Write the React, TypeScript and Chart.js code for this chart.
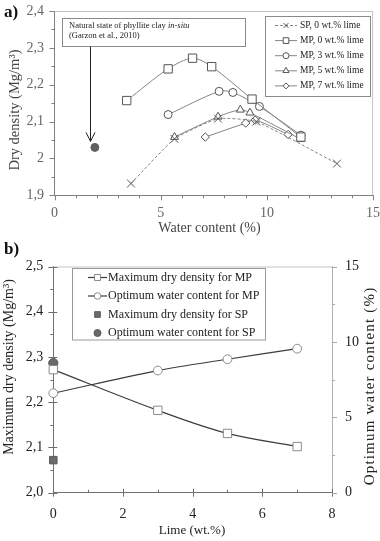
import React, { useEffect, useRef } from 'react';
import { Chart, registerables } from 'chart.js';
import { drawPoint } from 'chart.js/helpers';

Chart.register(...registerables);

const SERIF = '"Liberation Serif", "Times New Roman", Times, serif';

// ---------- a) compaction curves ----------
const SP0_W = [3.6, 5.65, 7.7, 9.5, 13.3];
const SP0_D = [1.932, 2.053, 2.108, 2.1, 1.986];
const MP0_W = [3.4, 5.35, 6.5, 7.4, 9.3, 11.6];
const MP0_D = [2.157, 2.243, 2.272, 2.249, 2.161, 2.058];
const MP3_W = [5.35, 7.75, 8.4, 9.65, 11.6];
const MP3_D = [2.119, 2.182, 2.179, 2.141, 2.063];
const MP5_W = [5.65, 7.7, 8.75, 9.2, 11.6];
const MP5_D = [2.058, 2.113, 2.132, 2.124, 2.052];
const MP7_W = [7.1, 9.0, 9.45, 11.0];
const MP7_D = [2.058, 2.096, 2.104, 2.065];
const INSITU_W = [1.9];
const INSITU_D = [2.03];

const A_LABELS = ['SP, 0 wt.% lime', 'MP, 0 wt.% lime', 'MP, 3 wt.% lime', 'MP, 5 wt.% lime', 'MP, 7 wt.% lime'];
const A_X_TICKS = [0, 5, 10, 15];
const A_Y_TICKS = [1.9, 2.0, 2.1, 2.2, 2.3, 2.4];
const A_Y_TICK_LABELS = ['1,9', '2', '2,1', '2,2', '2,3', '2,4'];
const A_X_TITLE = 'Water content (%)';
const A_Y_TITLE = 'Dry density (Mg/m³)';
const A_NOTE_1 = 'Natural state of phyllite clay ';
const A_NOTE_1_IT = 'in-situ';
const A_NOTE_2 = '(Garzon et al., 2010)';

// ---------- b) lime effect ----------
const LIME = [0, 3, 5, 7];
const MP_MAX_DENSITY = [2.272, 2.182, 2.131, 2.102];
const MP_OPT_WATER = [6.6, 8.1, 8.85, 9.55];
const SP_LIME = [0];
const SP_MAX_DENSITY = [2.072];
const SP_OPT_WATER = [8.6];

const B_LABELS = [
  'Maximum dry density for MP',
  'Optimum water content for MP',
  'Maximum dry density for SP',
  'Optimum water content for SP',
];
const B_X_TICKS = [0, 2, 4, 6, 8];
const B_Y_TICKS = [2.0, 2.1, 2.2, 2.3, 2.4, 2.5];
const B_Y_TICK_LABELS = ['2,0', '2,1', '2,2', '2,3', '2,4', '2,5'];
const B_Y2_TICKS = [0, 5, 10, 15];
const B_X_TITLE = 'Lime (wt.%)';
const B_Y_TITLE = 'Maximum dry density (Mg/m³)';
const B_Y2_TITLE = 'Optimum water content (%)';

const pts = (xs: number[], ys: number[]) => xs.map((x, i) => ({ x, y: ys[i] }));

function seg(ctx: CanvasRenderingContext2D, x1: number, y1: number, x2: number, y2: number) {
  ctx.beginPath();
  ctx.moveTo(x1, y1);
  ctx.lineTo(x2, y2);
  ctx.stroke();
}

function vText(ctx: CanvasRenderingContext2D, text: string, cx: number, cy: number, font: string, color: string, spacing = 0) {
  ctx.save();
  ctx.translate(cx, cy);
  ctx.rotate(-Math.PI / 2);
  ctx.font = font;
  ctx.fillStyle = color;
  ctx.textAlign = 'center';
  ctx.textBaseline = 'middle';
  if (spacing) (ctx as any).letterSpacing = spacing + 'px';
  ctx.fillText(text, 0, 0);
  ctx.restore();
}

function marker(ctx: CanvasRenderingContext2D, ds: any, x: number, y: number, r: number) {
  ctx.save();
  ctx.setLineDash([]);
  ctx.lineWidth = 1;
  ctx.strokeStyle = ds.pointBorderColor;
  ctx.fillStyle = ds.pointBackgroundColor;
  drawPoint(ctx, { pointStyle: ds.pointStyle, radius: r, rotation: 0, borderWidth: 1 } as any, x, y);
  ctx.restore();
}

function ChartA() {
  const ref = useRef<HTMLCanvasElement>(null);
  useEffect(() => {
    const line = '#858585';
    const mk = '#555555';
    const base = { borderWidth: 1, pointBorderWidth: 1, pointBorderColor: mk, pointBackgroundColor: '#ffffff', showLine: true, tension: 0.3, clip: false };
    const datasets: any[] = [
      { ...base, label: A_LABELS[0], data: pts(SP0_W, SP0_D), borderColor: line, borderDash: [3, 2], pointStyle: 'crossRot', pointRadius: 5.5, tension: 0.15 },
      { ...base, label: A_LABELS[1], data: pts(MP0_W, MP0_D), borderColor: line, pointStyle: 'rect', pointRadius: 5.9 },
      { ...base, label: A_LABELS[2], data: pts(MP3_W, MP3_D), borderColor: line, pointStyle: 'circle', pointRadius: 4 },
      { ...base, label: A_LABELS[3], data: pts(MP5_W, MP5_D), borderColor: line, pointStyle: 'triangle', pointRadius: 4.6 },
      { ...base, label: A_LABELS[4], data: pts(MP7_W, MP7_D), borderColor: line, pointStyle: 'rectRot', pointRadius: 4.2 },
      { label: 'in-situ', data: pts(INSITU_W, INSITU_D), showLine: false, clip: false, pointStyle: 'circle', pointRadius: 4, pointBackgroundColor: '#5f5f5f', pointBorderColor: '#5f5f5f', borderColor: '#5f5f5f' },
    ];
    const legendR = [3.5, 4, 3, 3.5, 3];
    const plugin = {
      id: 'decorA',
      afterDraw(chart: any) {
        const { ctx, chartArea: ca, scales } = chart;
        const xs = scales.x, ys = scales.y;
        ctx.save();
        ctx.lineWidth = 1;
        // frame
        ctx.strokeStyle = '#c4c4c4';
        seg(ctx, ca.left, ca.top + 0.5, ca.right, ca.top + 0.5);
        seg(ctx, ca.right - 0.5, ca.top, ca.right - 0.5, ca.bottom);
        // ticks
        ctx.strokeStyle = '#808080';
        for (let v = 0; v <= 15; v++) {
          const px = Math.round(xs.getPixelForValue(v)) + 0.5;
          seg(ctx, px, ca.bottom, px, ca.bottom + (v % 5 === 0 ? 5 : 3));
        }
        for (let k = 0; k <= 10; k++) {
          const py = Math.round(ys.getPixelForValue(1.9 + k * 0.05)) + 0.5;
          seg(ctx, ca.left - (k % 2 === 0 ? 5 : 3), py, ca.left, py);
        }
        // titles
        ctx.fillStyle = '#444';
        ctx.font = `14px ${SERIF}`;
        ctx.textAlign = 'center';
        ctx.textBaseline = 'middle';
        ctx.fillText(A_X_TITLE, 209.5, 228);
        vText(ctx, A_Y_TITLE, 15, 110, `14.5px ${SERIF}`, '#444');
        // panel label
        ctx.font = `bold 17px ${SERIF}`;
        ctx.fillStyle = '#111';
        ctx.textAlign = 'left';
        ctx.fillText('a)', 4, 13);
        // annotation box
        ctx.fillStyle = '#fff';
        ctx.strokeStyle = '#8a8a8a';
        ctx.fillRect(62.5, 18.5, 183, 28);
        ctx.strokeRect(62.5, 18.5, 183, 28);
        ctx.fillStyle = '#222';
        ctx.font = `8.5px ${SERIF}`;
        ctx.textBaseline = 'middle';
        ctx.fillText(A_NOTE_1, 69, 25.5);
        const w1 = ctx.measureText(A_NOTE_1).width;
        ctx.font = `italic 8.5px ${SERIF}`;
        ctx.fillText(A_NOTE_1_IT, 69 + w1, 25.5);
        ctx.font = `8.5px ${SERIF}`;
        ctx.fillText(A_NOTE_2, 69, 36);
        // arrow to in-situ point
        const ax = Math.round(xs.getPixelForValue(INSITU_W[0])) - 4.5;
        const tipY = ys.getPixelForValue(INSITU_D[0]) - 6;
        ctx.strokeStyle = '#222';
        seg(ctx, ax, 46.5, ax, tipY);
        ctx.beginPath();
        ctx.moveTo(ax - 4.5, tipY - 9);
        ctx.lineTo(ax, tipY);
        ctx.lineTo(ax + 4.5, tipY - 9);
        ctx.stroke();
        // legend
        ctx.fillStyle = '#fff';
        ctx.strokeStyle = '#8a8a8a';
        ctx.fillRect(265.5, 16.5, 105, 80);
        ctx.strokeRect(265.5, 16.5, 105, 80);
        for (let i = 0; i < 5; i++) {
          const ds = chart.data.datasets[i];
          const yy = 25.5 + i * 15.1;
          ctx.strokeStyle = ds.borderColor;
          ctx.setLineDash(ds.borderDash || []);
          seg(ctx, 275, yy, 297, yy);
          ctx.setLineDash([]);
          marker(ctx, ds, 286, yy, legendR[i]);
          ctx.fillStyle = '#222';
          ctx.font = `9.5px ${SERIF}`;
          ctx.textAlign = 'left';
          ctx.textBaseline = 'middle';
          ctx.fillText(ds.label, 300, yy);
        }
        ctx.restore();
      },
    };
    const chart = new Chart(ref.current!, {
      type: 'scatter',
      data: { datasets },
      options: {
        responsive: false,
        animation: false,
        devicePixelRatio: 1,
        layout: { padding: { top: 11, right: 5.5, left: 0, bottom: 0 } },
        plugins: { legend: { display: false }, tooltip: { enabled: false } },
        scales: {
          x: {
            type: 'linear', min: 0, max: 15,
            afterBuildTicks: (s: any) => { s.ticks = A_X_TICKS.map((v) => ({ value: v })); },
            ticks: { font: { family: SERIF, size: 14 }, color: '#666', padding: 10 },
            grid: { display: false, drawTicks: false },
            border: { color: '#808080', width: 1 },
            afterFit: (s: any) => { s.height = 44.7; s.paddingLeft = 0; s.paddingRight = 0; },
          },
          y: {
            type: 'linear', min: 1.9, max: 2.4,
            afterBuildTicks: (s: any) => { s.ticks = A_Y_TICKS.map((v) => ({ value: v })); },
            ticks: { font: { family: SERIF, size: 14 }, color: '#666', padding: 10.5, callback: (_v: any, i: number) => A_Y_TICK_LABELS[i] },
            grid: { display: false, drawTicks: false },
            border: { color: '#808080', width: 1 },
            afterFit: (s: any) => { s.width = 54.5; s.paddingTop = 0; s.paddingBottom = 0; },
          },
        },
      } as any,
      plugins: [plugin],
    });
    return () => chart.destroy();
  }, []);
  return <canvas ref={ref} width={380} height={240} style={{ position: 'absolute', left: 0, top: 0, width: 380, height: 240 }} />;
}

function ChartB() {
  const ref = useRef<HTMLCanvasElement>(null);
  useEffect(() => {
    const dark = '#3c3c3c';
    const datasets: any[] = [
      { label: B_LABELS[0], data: pts(LIME, MP_MAX_DENSITY), yAxisID: 'y', clip: false, showLine: true, tension: 0.35, borderColor: dark, borderWidth: 1.2, pointStyle: 'rect', pointRadius: 5.9, pointBorderWidth: 1, pointBorderColor: '#8a8a8a', pointBackgroundColor: '#fff' },
      { label: B_LABELS[1], data: pts(LIME, MP_OPT_WATER), yAxisID: 'y2', clip: false, showLine: true, tension: 0.35, borderColor: dark, borderWidth: 1.2, pointStyle: 'circle', pointRadius: 4.4, pointBorderWidth: 1, pointBorderColor: '#8a8a8a', pointBackgroundColor: '#fff' },
      { label: B_LABELS[2], data: pts(SP_LIME, SP_MAX_DENSITY), yAxisID: 'y', clip: false, showLine: false, pointStyle: 'rect', pointRadius: 5.3, pointBorderWidth: 1, pointBorderColor: '#5a5a5a', pointBackgroundColor: '#6a6a6a', borderColor: '#5a5a5a' },
      { label: B_LABELS[3], data: pts(SP_LIME, SP_OPT_WATER), yAxisID: 'y2', clip: false, showLine: false, pointStyle: 'circle', pointRadius: 4.6, pointBorderWidth: 1, pointBorderColor: '#5a5a5a', pointBackgroundColor: '#6a6a6a', borderColor: '#5a5a5a' },
    ];
    const legendR = [4.2, 3.3, 4, 3.5];
    const plugin = {
      id: 'decorB',
      afterDraw(chart: any) {
        const { ctx, chartArea: ca, scales } = chart;
        const xs = scales.x, ys = scales.y, y2 = scales.y2;
        ctx.save();
        ctx.lineWidth = 1;
        ctx.strokeStyle = '#c4c4c4';
        seg(ctx, ca.left, ca.top + 0.5, ca.right, ca.top + 0.5);
        // x ticks
        ctx.strokeStyle = '#707070';
        for (let v = 0; v <= 8; v++) {
          const px = Math.round(xs.getPixelForValue(v)) + 0.5;
          if (v % 2 === 0) seg(ctx, px, ca.bottom - 4, px, ca.bottom + 4);
          else seg(ctx, px, ca.bottom - 3, px, ca.bottom);
        }
        // left y ticks
        for (let k = 0; k <= 10; k++) {
          const py = Math.round(ys.getPixelForValue(2.0 + k * 0.05)) + 0.5;
          if (k % 2 === 0) seg(ctx, ca.left - 5, py, ca.left + 4, py);
          else seg(ctx, ca.left - 3, py, ca.left, py);
        }
        // right y ticks
        ctx.strokeStyle = '#a8a8a8';
        for (let k = 0; k <= 6; k++) {
          const py = Math.round(y2.getPixelForValue(k * 2.5)) + 0.5;
          seg(ctx, ca.right, py, ca.right + (k % 2 === 0 ? 5 : 3), py);
        }
        // titles
        ctx.fillStyle = '#222';
        ctx.font = `13px ${SERIF}`;
        ctx.textAlign = 'center';
        ctx.textBaseline = 'middle';
        ctx.fillText(B_X_TITLE, 192, 291);
        vText(ctx, B_Y_TITLE, 9.5, 127, `14px ${SERIF}`, '#222');
        vText(ctx, B_Y2_TITLE, 370, 146, `15px ${SERIF}`, '#222', 1.2);
        // panel label
        ctx.font = `bold 17px ${SERIF}`;
        ctx.fillStyle = '#111';
        ctx.textAlign = 'left';
        ctx.fillText('b)', 4, 10);
        // legend
        ctx.fillStyle = '#fff';
        ctx.strokeStyle = '#9a9a9a';
        ctx.fillRect(72.5, 28.5, 193, 71.5);
        ctx.strokeRect(72.5, 28.5, 193, 71.5);
        for (let i = 0; i < 4; i++) {
          const ds = chart.data.datasets[i];
          const yy = 37.5 + i * 18.5;
          if (ds.showLine) {
            ctx.strokeStyle = ds.borderColor;
            ctx.lineWidth = 1.2;
            seg(ctx, 88, yy, 107, yy);
            ctx.lineWidth = 1;
          }
          marker(ctx, ds, 97.5, yy, legendR[i]);
          ctx.fillStyle = '#222';
          ctx.font = `12px ${SERIF}`;
          ctx.textAlign = 'left';
          ctx.textBaseline = 'middle';
          ctx.fillText(ds.label, 108, yy);
        }
        ctx.restore();
      },
    };
    const chart = new Chart(ref.current!, {
      type: 'scatter',
      data: { datasets },
      options: {
        responsive: false,
        animation: false,
        devicePixelRatio: 1,
        layout: { padding: { top: 26.5, right: 0, left: 0, bottom: 0 } },
        plugins: { legend: { display: false }, tooltip: { enabled: false } },
        scales: {
          x: {
            type: 'linear', min: 0, max: 8,
            afterBuildTicks: (s: any) => { s.ticks = B_X_TICKS.map((v) => ({ value: v })); },
            ticks: { font: { family: SERIF, size: 14 }, color: '#222', padding: 13.5 },
            grid: { display: false, drawTicks: false },
            border: { color: '#707070', width: 1 },
            afterFit: (s: any) => { s.height = 48.3; s.paddingLeft = 0; s.paddingRight = 0; },
          },
          y: {
            type: 'linear', position: 'left', min: 2.0, max: 2.5,
            afterBuildTicks: (s: any) => { s.ticks = B_Y_TICKS.map((v) => ({ value: v })); },
            ticks: { font: { family: SERIF, size: 14 }, color: '#222', padding: 10, callback: (_v: any, i: number) => B_Y_TICK_LABELS[i] },
            grid: { display: false, drawTicks: false },
            border: { color: '#707070', width: 1 },
            afterFit: (s: any) => { s.width = 53.3; s.paddingTop = 0; s.paddingBottom = 0; },
          },
          y2: {
            type: 'linear', position: 'right', min: 0, max: 15,
            afterBuildTicks: (s: any) => { s.ticks = B_Y2_TICKS.map((v) => ({ value: v })); },
            ticks: { font: { family: SERIF, size: 14 }, color: '#222', padding: 13 },
            grid: { display: false, drawTicks: false },
            border: { color: '#b0b0b0', width: 1 },
            afterFit: (s: any) => { s.width = 48; s.paddingTop = 0; s.paddingBottom = 0; },
          },
        },
      } as any,
      plugins: [plugin],
    });
    return () => chart.destroy();
  }, []);
  return <canvas ref={ref} width={380} height={301} style={{ position: 'absolute', left: 0, top: 240, width: 380, height: 301 }} />;
}

export default function App() {
  return (
    <div style={{ position: 'absolute', left: 0, top: 0, width: 380, height: 541, background: '#fff', overflow: 'hidden' }}>
      <ChartA />
      <ChartB />
    </div>
  );
}
